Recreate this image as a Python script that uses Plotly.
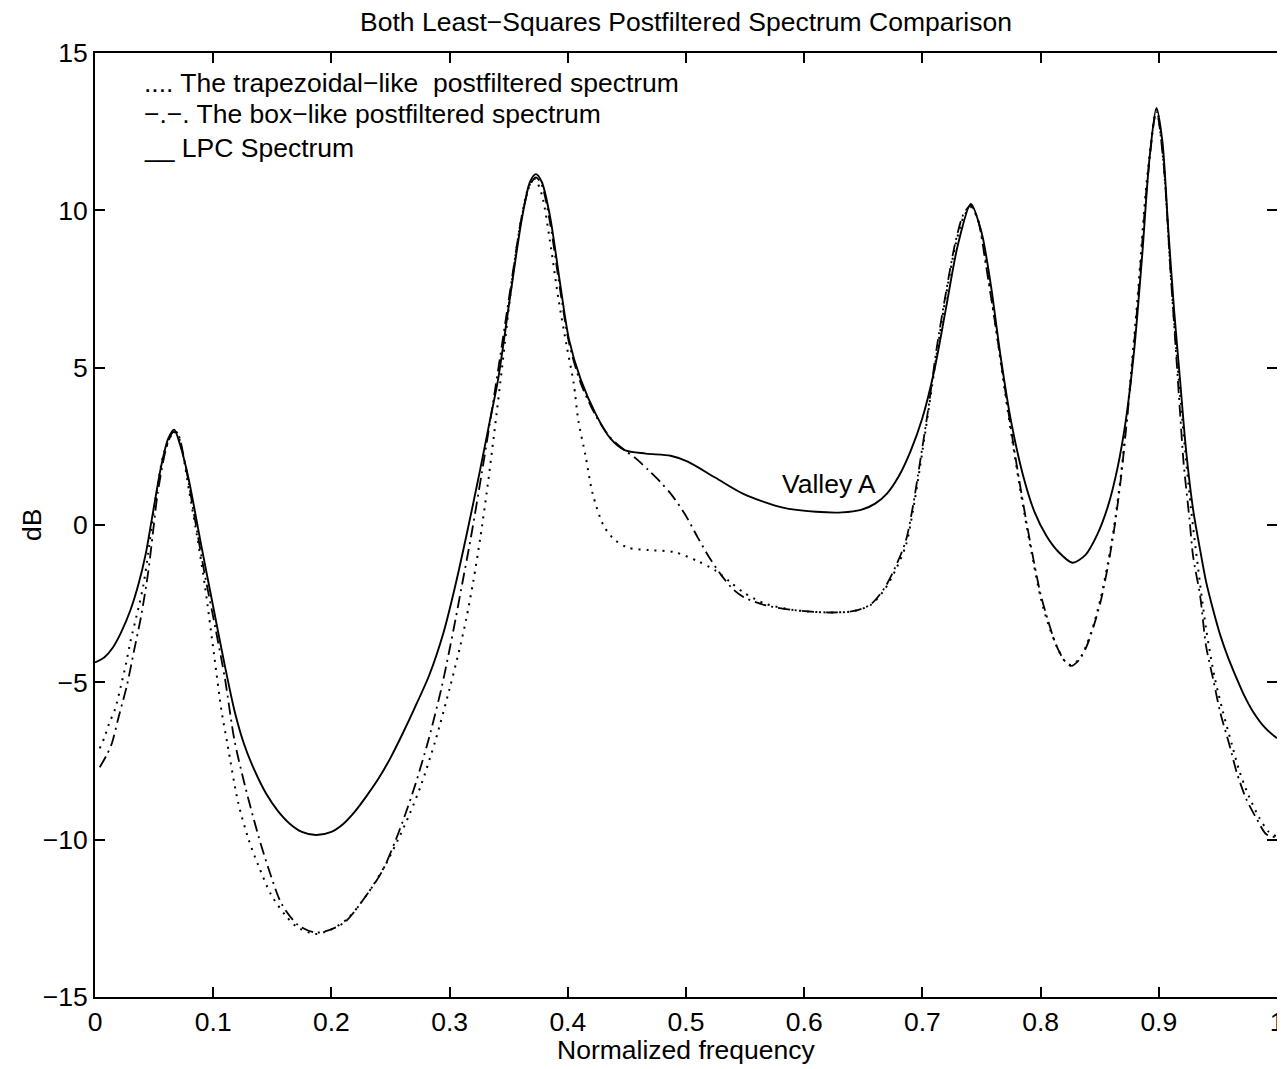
import plotly.graph_objects as go

# ---------------- data ----------------
x_lpc = [0.000, 0.008, 0.015, 0.022, 0.030, 0.037, 0.043, 0.048, 0.056, 0.062,
         0.067, 0.072, 0.079, 0.090, 0.101, 0.110, 0.118, 0.126, 0.135, 0.145,
         0.155, 0.165, 0.175, 0.187, 0.200, 0.210, 0.220, 0.230, 0.240, 0.250,
         0.260, 0.270, 0.283, 0.295, 0.305, 0.315, 0.325, 0.334, 0.341, 0.351,
         0.361, 0.368, 0.373, 0.378, 0.385, 0.393, 0.401, 0.411, 0.424, 0.436,
         0.448, 0.466, 0.487, 0.501, 0.525, 0.549, 0.582, 0.610, 0.632, 0.648,
         0.660, 0.670, 0.680, 0.690, 0.700, 0.710, 0.720, 0.730, 0.741, 0.750,
         0.758, 0.766, 0.775, 0.785, 0.795, 0.805, 0.815, 0.827, 0.838, 0.848,
         0.857, 0.865, 0.872, 0.879, 0.886, 0.892, 0.898, 0.903, 0.908, 0.913,
         0.918, 0.923, 0.929, 0.935, 0.940, 0.946, 0.952, 0.958, 0.965, 0.972,
         0.980, 0.990, 1.000]
y_lpc = [-4.37, -4.2, -3.9, -3.42, -2.7, -1.85, -0.9, 0.17, 1.87, 2.75,
         3.03, 2.55, 1.5, -0.67, -2.79, -4.5, -5.9, -6.95, -7.8, -8.55,
         -9.1, -9.5, -9.75, -9.85, -9.75, -9.5, -9.1, -8.6, -8.05, -7.4,
         -6.65, -5.85, -4.75, -3.4, -1.9, -0.2, 1.6, 3.3, 4.62, 7.2,
         9.7, 10.9, 11.15, 10.9, 9.8, 7.8, 5.9, 4.62, 3.5, 2.75,
         2.38, 2.27, 2.2, 2.02, 1.5, 0.98, 0.55, 0.42, 0.4, 0.48,
         0.68, 1.0, 1.55, 2.35, 3.4, 4.9, 6.9, 8.9, 10.2, 9.3,
         7.6, 5.4, 3.3, 1.6, 0.4, -0.35, -0.85, -1.2, -0.95, -0.3,
         0.6, 1.8, 3.3, 5.5, 8.6, 11.6, 13.25, 12.2, 9.4, 6.8,
         4.6, 2.4, 0.5, -0.8, -1.8, -2.7, -3.5, -4.15, -4.8, -5.4,
         -5.95, -6.45, -6.78]

x_trap = [0.004, 0.008, 0.012, 0.017, 0.022, 0.026, 0.030, 0.037, 0.041, 0.045,
          0.048, 0.052, 0.058, 0.065, 0.069, 0.074, 0.080, 0.087, 0.093, 0.101,
          0.107, 0.112, 0.121, 0.130, 0.138, 0.149, 0.161, 0.170, 0.186, 0.200,
          0.214, 0.230, 0.245, 0.257, 0.266, 0.276, 0.288, 0.300, 0.309, 0.314,
          0.320, 0.326, 0.332, 0.338, 0.345, 0.352, 0.360, 0.367, 0.372, 0.378,
          0.385, 0.392, 0.399, 0.405, 0.409, 0.415, 0.421, 0.430, 0.439, 0.451,
          0.469, 0.490, 0.510, 0.525, 0.537, 0.549, 0.567, 0.591, 0.620, 0.641,
          0.656, 0.668, 0.677, 0.686, 0.692, 0.698, 0.705, 0.712, 0.720, 0.728,
          0.735, 0.741, 0.747, 0.754, 0.762, 0.770, 0.776, 0.782, 0.788, 0.794,
          0.800, 0.806, 0.813, 0.820, 0.826, 0.833, 0.839, 0.845, 0.851, 0.857,
          0.862, 0.868, 0.875, 0.882, 0.890, 0.898, 0.904, 0.910, 0.915, 0.920,
          0.927, 0.933, 0.940, 0.947, 0.954, 0.962, 0.968, 0.976, 0.985, 0.993,
          1.000]
y_trap = [-7.1, -6.75, -6.3, -5.85, -5.1, -4.45, -3.7, -2.6, -1.9, -0.9,
          -0.04, 1.0, 2.25, 2.87, 2.95, 2.3, 1.0, -0.5, -1.94, -4.2,
          -5.9, -6.95, -8.8, -10.0, -10.8, -11.75, -12.4, -12.75, -13.0, -12.85,
          -12.5, -11.75, -10.85, -9.95, -9.2, -8.25, -6.85, -5.2, -3.85, -3.0,
          -1.8, -0.4, 1.2, 3.0, 5.2, 7.5, 9.6, 10.75, 11.0, 10.5,
          9.0, 7.2, 5.7, 4.5, 3.3, 2.2, 1.0, 0.0, -0.45, -0.72,
          -0.8, -0.86, -1.15, -1.45, -1.8, -2.15, -2.5, -2.7, -2.78, -2.74,
          -2.55, -2.05, -1.45, -0.65, 0.45, 1.85, 3.6, 5.4, 7.3, 8.9,
          9.8, 10.1, 9.7, 8.3, 6.3, 4.2, 2.7, 1.3, 0.0, -1.2,
          -2.3, -3.1, -3.8, -4.3, -4.45, -4.25, -3.8, -3.15, -2.3, -1.2,
          -0.1, 1.6, 4.2, 7.2, 11.0, 13.2, 11.5, 8.0, 5.5, 3.3,
          0.6, -1.3, -3.3, -4.8, -5.9, -7.0, -7.8, -8.6, -9.3, -9.75,
          -9.9]

x_box = [0.004, 0.010, 0.014, 0.020, 0.027, 0.033, 0.039, 0.045, 0.049, 0.053,
         0.060, 0.066, 0.070, 0.076, 0.084, 0.093, 0.102, 0.110, 0.118, 0.127,
         0.138, 0.147, 0.158, 0.172, 0.186, 0.200, 0.212, 0.229, 0.243, 0.254,
         0.262, 0.271, 0.282, 0.293, 0.300, 0.305, 0.310, 0.318, 0.327, 0.336,
         0.345, 0.353, 0.361, 0.368, 0.373, 0.378, 0.385, 0.393, 0.401, 0.411,
         0.424, 0.436, 0.448, 0.458, 0.468, 0.478, 0.488, 0.499, 0.510, 0.520,
         0.530, 0.540, 0.549, 0.567, 0.591, 0.620, 0.641, 0.656, 0.668, 0.677,
         0.686, 0.692, 0.698, 0.705, 0.712, 0.720, 0.728, 0.735, 0.741, 0.747,
         0.754, 0.762, 0.770, 0.776, 0.782, 0.788, 0.794, 0.800, 0.806, 0.813,
         0.820, 0.826, 0.833, 0.839, 0.845, 0.851, 0.857, 0.862, 0.868, 0.875,
         0.882, 0.890, 0.898, 0.904, 0.910, 0.914, 0.918, 0.921, 0.926, 0.929,
         0.935, 0.940, 0.946, 0.952, 0.960, 0.966, 0.974, 0.983, 0.991, 1.000]
y_box = [-7.7, -7.3, -6.97, -6.1, -5.1, -4.0, -2.9, -1.5, -0.25, 1.0,
         2.4, 2.95, 2.9, 2.0, 0.3, -1.6, -3.3, -4.9, -6.85, -8.3,
         -9.85, -10.94, -12.05, -12.72, -12.95, -12.85, -12.6, -11.8, -11.0, -10.05,
         -9.25, -8.25, -6.85, -5.2, -3.95, -3.0, -2.0, -0.4, 1.6, 3.7,
         5.9, 7.9, 9.8, 10.8, 11.05, 10.8, 9.6, 7.6, 5.8, 4.5,
         3.45, 2.78, 2.38, 2.1, 1.75, 1.38, 0.95, 0.35, -0.4, -1.05,
         -1.6, -2.05, -2.3, -2.55, -2.7, -2.78, -2.74, -2.53, -2.0, -1.35,
         -0.5, 0.6, 2.0, 3.7, 5.6, 7.4, 9.0, 9.9, 10.15, 9.7,
         8.2, 6.3, 4.3, 2.8, 1.4, 0.1, -1.1, -2.2, -3.0, -3.8,
         -4.3, -4.48, -4.27, -3.85, -3.2, -2.4, -1.3, -0.2, 1.5, 4.09,
         7.0, 10.8, 13.15, 11.5, 8.0, 5.8, 3.56, 1.97, 0.17, -0.99,
         -2.26, -3.85, -4.9, -5.96, -7.02, -7.87, -8.71, -9.35, -9.83, -9.93]

x_ticks = [0, 0.1, 0.2, 0.3, 0.4, 0.5, 0.6, 0.7, 0.8, 0.9, 1]
y_ticks = [-15, -10, -5, 0, 5, 10, 15]

title_text = "Both Least\u2212Squares Postfiltered Spectrum Comparison"
x_title = "Normalized frequency"
y_title = "dB"
legend_lines = [".... The trapezoidal\u2212like \u00a0postfiltered spectrum",
                "\u2212.\u2212. The box\u2212like postfiltered spectrum",
                "__ LPC Spectrum"]
valley_label = "Valley A"

# ---------------- figure ----------------
# The page body has an 8px margin, so the figure is sized/offset to compensate.
FONT = "Liberation Sans, Arial, Helvetica, sans-serif"
FS = 26.5

fig = go.Figure()
fig.add_trace(go.Scatter(x=x_trap, y=y_trap, mode="lines",
                         line=dict(color="black", width=2, dash="2px,6px", shape="spline", smoothing=0.8),
                         showlegend=False))
fig.add_trace(go.Scatter(x=x_box, y=y_box, mode="lines",
                         line=dict(color="black", width=1.8, dash="12px,5px,2px,5px", shape="spline", smoothing=0.8),
                         showlegend=False))
fig.add_trace(go.Scatter(x=x_lpc, y=y_lpc, mode="lines",
                         line=dict(color="black", width=1.9, shape="spline", smoothing=0.8),
                         showlegend=False))

legend_y = [0.968, 0.935, 0.899]
for txt, yy in zip(legend_lines, legend_y):
    fig.add_annotation(x=0.040, y=yy, xref="paper", yref="paper", text=txt,
                       showarrow=False, xanchor="left", yanchor="middle",
                       font=dict(family=FONT, size=FS, color="black"))
fig.add_annotation(x=0.5795, y=0.5434, xref="paper", yref="paper", text=valley_label,
                   showarrow=False, xanchor="left", yanchor="middle",
                   font=dict(family=FONT, size=FS, color="black"))
# axis titles
fig.add_annotation(x=0.5, y=-0.0561, xref="paper", yref="paper", text=x_title,
                   showarrow=False, xanchor="center", yanchor="middle",
                   font=dict(family=FONT, size=FS, color="black"))
fig.add_annotation(x=-0.0533, y=0.5, xref="paper", yref="paper", text=y_title,
                   showarrow=False, xanchor="center", yanchor="middle", textangle=-90,
                   font=dict(family=FONT, size=FS, color="black"))

axis_common = dict(showgrid=False, zeroline=False, showline=True, linecolor="black",
                   linewidth=1.8, mirror="ticks", ticks="inside", ticklen=10,
                   tickwidth=1.5, tickcolor="black", automargin=False,
                   tickfont=dict(family=FONT, size=FS, color="black"))

fig.update_layout(
    width=1277, height=1061,
    margin=dict(l=87, r=8, t=45, b=72),
    paper_bgcolor="white", plot_bgcolor="white",
    title=dict(text=title_text, x=0.5, xanchor="center", y=0.9868, yanchor="middle",
               yref="container", xref="paper",
               font=dict(family=FONT, size=FS, color="black")),
    xaxis=dict(range=[0, 1], tickvals=x_ticks,
               ticktext=[("%g" % v) for v in x_ticks],
               **axis_common),
    yaxis=dict(range=[-15, 15], tickvals=y_ticks,
               ticktext=[("%g" % v).replace("-", "\u2212") for v in y_ticks],
               **axis_common),
    showlegend=False,
)

fig.write_html("out.html")
